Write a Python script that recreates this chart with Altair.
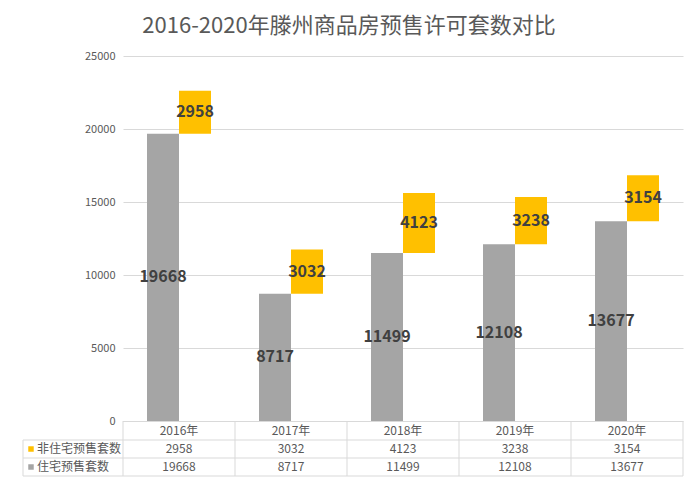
import altair as alt
import pandas as pd

title_text = "2016-2020年滕州商品房预售许可套数对比"
years = ["2016年", "2017年", "2018年", "2019年", "2020年"]
residential = [19668, 8717, 11499, 12108, 13677]
non_residential = [2958, 3032, 4123, 3238, 3154]
series_names = ["住宅预售套数", "非住宅预售套数"]
colors = ["#A5A5A5", "#FFC000"]
y_ticks = [0, 5000, 10000, 15000, 20000, 25000]

FONT = "Noto Sans CJK SC"
TXT = "#595959"
GRID = "#D9D9D9"

rows = []
for y, r, n in zip(years, residential, non_residential):
    rows.append({"year": y, "series": series_names[0], "start": 0, "end": r, "value": r})
    rows.append({"year": y, "series": series_names[1], "start": r, "end": r + n, "value": n})
df = pd.DataFrame(rows)

x_enc = alt.X("year:N", sort=years, axis=None,
              scale=alt.Scale(paddingInner=0, paddingOuter=0))
xoff = alt.XOffset("series:N", sort=series_names,
                   scale=alt.Scale(domain=series_names, paddingOuter=0.75, paddingInner=0))
y_scale = alt.Scale(domain=[0, 25000], nice=False)

bars = alt.Chart(df).mark_bar().encode(
    x=x_enc,
    xOffset=xoff,
    y=alt.Y("start:Q", scale=y_scale, title=None,
            axis=alt.Axis(values=y_ticks, format="d", domain=False, ticks=False, grid=True,
                          gridColor=GRID, labelColor=TXT, labelFontSize=11,
                          labelFont=FONT, labelPadding=8)),
    y2="end:Q",
    color=alt.Color("series:N", scale=alt.Scale(domain=series_names, range=colors), legend=None),
)

labels = alt.Chart(df).transform_calculate(
    mid="(datum.start + datum.end) / 2"
).mark_text(font=FONT, fontSize=16, fontWeight="bold", color="#404040", baseline="middle").encode(
    x=x_enc,
    xOffset=xoff,
    y=alt.Y("mid:Q", scale=y_scale),
    text="value:Q",
)

# ---- title as text mark ----
title = alt.Chart(pd.DataFrame({"t": [title_text]})).mark_text(
    font=FONT, fontSize=22, color=TXT, align="center", baseline="middle"
).encode(x=alt.value(226), y=alt.value(-30), text="t:N")

# ---- data table ----
tbl = pd.DataFrame({"year": years, "res": residential, "non": non_residential})
header = alt.Chart(tbl).mark_text(font=FONT, fontSize=12, color=TXT, baseline="middle").encode(
    x=x_enc, y=alt.value(375), text="year:N")
row1 = alt.Chart(tbl).mark_text(font=FONT, fontSize=12, color=TXT, baseline="middle").encode(
    x=x_enc, y=alt.value(393), text="non:Q")
row2 = alt.Chart(tbl).mark_text(font=FONT, fontSize=12, color=TXT, baseline="middle").encode(
    x=x_enc, y=alt.value(411), text="res:Q")

leg = pd.DataFrame({"name": [series_names[1], series_names[0]],
                    "color": [colors[1], colors[0]],
                    "ypix": [393, 411]})
leg_text = alt.Chart(leg).mark_text(font=FONT, fontSize=12, color=TXT, align="left",
                                    baseline="middle").encode(
    x=alt.value(-86), y=alt.Y("ypix:Q", scale=None), text="name:N")
leg_sq = alt.Chart(leg).mark_square(size=30, opacity=1).encode(
    x=alt.value(-92), y=alt.Y("ypix:Q", scale=None),
    color=alt.Color("color:N", scale=None))

one = pd.DataFrame({"a": [0]})
def hrule(x1, x2, y):
    return alt.Chart(one).mark_rule(color=GRID, strokeWidth=1).encode(
        x=alt.value(x1), x2=alt.value(x2), y=alt.value(y))
def vrule(x, y1, y2):
    return alt.Chart(one).mark_rule(color=GRID, strokeWidth=1).encode(
        x=alt.value(x), y=alt.value(y1), y2=alt.value(y2))

vlines = alt.Chart(tbl).mark_rule(color=GRID, strokeWidth=1).encode(
    x=alt.X("year:N", sort=years, axis=None, bandPosition=0,
            scale=alt.Scale(paddingInner=0, paddingOuter=0)),
    y=alt.value(365), y2=alt.value(420))

table = [hrule(0, 560, 365.5), hrule(-100, 560, 384), hrule(-100, 560, 402), hrule(-100, 560, 420),
         vrule(-100, 384, 420), vrule(560, 365, 420), vlines]

chart = alt.layer(bars, labels, *table, header, row1, row2, leg_sq, leg_text, title).properties(
    width=560, height=365,
    autosize=alt.AutoSizeParams(type="none"),
    padding={"left": 115, "top": 48, "right": 8, "bottom": 60},
    background="white",
).configure_view(stroke=None)

chart.save("out.html", embed_options={"renderer": "svg", "actions": False})
